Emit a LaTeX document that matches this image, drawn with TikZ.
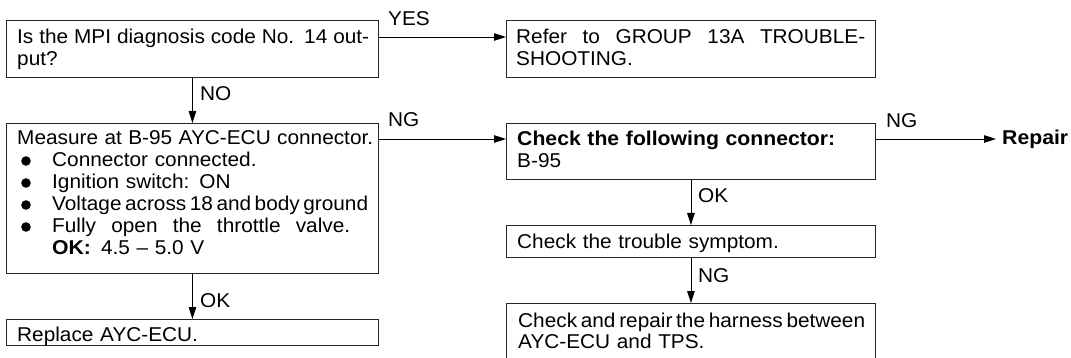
\documentclass[tikz,border=0pt]{standalone}
\usepackage{fontspec}
\setmainfont{Liberation Sans}[FakeStretch=1.04, BoldFeatures={FakeStretch=1.06}]
\usetikzlibrary{arrows.meta}
\tikzset{
  box/.style={draw=black!85, line width=0.9pt, rectangle, inner sep=0pt, anchor=north west},
  txt/.style={anchor=base west, inner sep=0pt, align=left, font=\fontsize{20}{21.5}\selectfont},
  txtb/.style={anchor=base west, inner sep=0pt, align=left, font=\fontsize{20}{22}\selectfont},
  lbl/.style={anchor=base west, inner sep=0pt, font=\fontsize{20}{21.5}\selectfont},
  conn/.style={draw=black, line width=0.9pt, -{Triangle[length=12pt,width=7.5pt]}},
  bulletdot/.style={fill=black},
}
\newcommand{\jl}[2]{\makebox[#1][s]{\spaceskip=4pt plus 20pt minus 3pt #2}}
\begin{document}
\begin{tikzpicture}[x=1pt,y=-1pt]
\useasboundingbox (0,0) rectangle (1071,358);
% boxes
\node[box, minimum width=372pt, minimum height=57pt]  (b1) at (6,20) {};
\node[box, minimum width=369pt, minimum height=57pt]  (b2) at (506,20) {};
\node[box, minimum width=372pt, minimum height=150pt] (b3) at (6,123) {};
\node[box, minimum width=372pt, minimum height=26pt]  (b4) at (6,319) {};
\node[box, minimum width=369pt, minimum height=56pt]  (b5) at (506,123) {};
\node[box, minimum width=369pt, minimum height=32pt]  (b6) at (506,225) {};
\node[box, minimum width=369pt, minimum height=75pt]  (b7) at (506,303) {};
% texts
\node[txt, text width=352pt] (t1) at (17,44) {\jl{352pt}{Is the MPI diagnosis code No. 14 out-}\\put?};
\node[txt, text width=349pt] (t2) at (516,44) {\jl{349pt}{Refer to GROUP 13A TROUBLE-}\\SHOOTING.};
\node[txtb, text width=356pt] (t3) at (17,145) {\jl{356pt}{Measure at B-95 AYC-ECU connector.}\\
\hspace*{35pt}Connector connected.\\
\hspace*{35pt}Ignition switch: ON\\
\hspace*{35pt}\jl{316pt}{Voltage across 18 and body ground}\\
\hspace*{35pt}\jl{298pt}{Fully open the throttle valve.}\\
\hspace*{35pt}\textbf{OK:}\hspace{10pt}4.5 – 5.0 V};
\foreach \yy in {161,183,205,227} \fill[bulletdot] (26,\yy) circle (4.8pt);
\node[txt, text width=352pt] (t4) at (17,341) {Replace AYC-ECU.};
\node[txt, text width=349pt] (t5) at (517,146) {\textbf{Check the following connector:}\\B-95};
\node[txt, text width=349pt] (t6) at (517,248) {Check the trouble symptom.};
\node[txt, text width=349pt] (t7) at (518,327) {\jl{347pt}{Check and repair the harness between}\\AYC-ECU and TPS.};
\node[lbl, inner xsep=6pt] (rep) at (996,145) {\textbf{Repair}};
% connectors
\draw[conn] ([yshift=-17pt]b1.north east) -- ([yshift=-17pt]b2.north west);
\draw[conn] (b1.south) -- (b3.north);
\draw[conn] ([yshift=-16pt]b3.north east) -- ([yshift=-16pt]b5.north west);
\draw[conn] (b3.south) -- (b4.north);
\draw[conn] ([yshift=-16pt]b5.north east) -- ([yshift=-16pt]b5.north east -| rep.west);
\draw[conn] (b5.south) -- (b6.north);
\draw[conn] (b6.south) -- (b7.north);
% labels
\node[lbl] (lyes) at (388,26) {YES};
\node[lbl] (lno) at (200,101) {NO};
\node[lbl] (lng1) at (388,127) {NG};
\node[lbl] (lok1) at (200,307) {OK};
\node[lbl] (lng2) at (886,128) {NG};
\node[lbl] (lok2) at (698,203) {OK};
\node[lbl] (lng3) at (698,283) {NG};
\end{tikzpicture}
\end{document}
